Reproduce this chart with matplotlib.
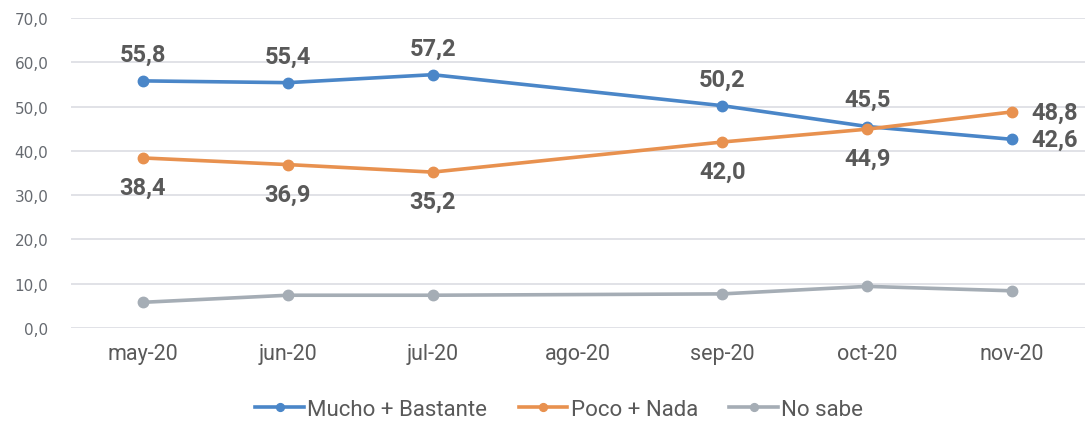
import matplotlib
matplotlib.use("Agg")
import matplotlib.pyplot as plt
import numpy as np

categories = ["may-20", "jun-20", "jul-20", "ago-20", "sep-20", "oct-20", "nov-20"]
mucho = [55.8, 55.4, 57.2, None, 50.2, 45.5, 42.6]
poco = [38.4, 36.9, 35.2, None, 42.0, 44.9, 48.8]
nosabe = [5.8, 7.4, 7.4, None, 7.7, 9.4, 8.4]
yticks = [0, 10, 20, 30, 40, 50, 60, 70]

cond = "Roboto"

blue = "#4a86c8"
orange = "#e8914f"
gray = "#a5adb5"
txt = "#595959"

fig = plt.figure(figsize=(10.86, 4.27), dpi=100)
ax = fig.add_axes([70.5/1086, 1-329/427, (1084.5-70.5)/1086, (329-19)/427])

x = np.arange(len(categories))

def series(vals):
    xs = [xi for xi, v in zip(x, vals) if v is not None]
    ys = [v for v in vals if v is not None]
    return np.array(xs), np.array(ys)

for vals, col, lab in [(mucho, blue, "Mucho + Bastante"), (poco, orange, "Poco + Nada"), (nosabe, gray, "No sabe")]:
    xs, ys = series(vals)
    ax.plot(xs, ys, color=col, lw=2.6, marker="o", ms=7.5, label=lab, zorder=3)

def fmt(v):
    return f"{v:.1f}".replace(".", ",")

lab_kw = dict(textcoords="offset points", fontsize=17, fontweight="bold", color=txt, family=cond)

xs, ys = series(mucho)
for xi, v in zip(xs, ys):
    if xi == 6:
        ax.annotate(fmt(v), (xi, v), xytext=(14, 0), ha="left", va="center", **lab_kw)
    else:
        ax.annotate(fmt(v), (xi, v), xytext=(0, 11), ha="center", va="bottom", **lab_kw)
xs, ys = series(poco)
for xi, v in zip(xs, ys):
    if xi == 6:
        ax.annotate(fmt(v), (xi, v), xytext=(14, 0), ha="left", va="center", **lab_kw)
    else:
        ax.annotate(fmt(v), (xi, v), xytext=(0, -13), ha="center", va="top", **lab_kw)

ax.set_xlim(-0.5, len(categories)-0.5)
ax.set_ylim(0, 70)
ax.set_yticks(yticks)
ax.set_yticklabels([fmt(v) for v in yticks], fontsize=11, color="#666a70")
ax.set_xticks(x)
ax.set_xticklabels(categories, fontsize=15.5, color=txt, family=cond)
ax.tick_params(length=0)
ax.tick_params(axis="y", pad=16)
ax.tick_params(axis="x", pad=11)
ax.grid(axis="y", color="#dcdde3", lw=1.2)
ax.set_axisbelow(True)
for s in ax.spines.values():
    s.set_visible(False)

leg = ax.legend(loc="center", bbox_to_anchor=(0.482, -0.262), ncol=3, frameon=False,
                prop={"family": cond, "size": 16}, handlelength=2.2, columnspacing=1.4,
                handletextpad=0.15, markerscale=0.75)
for t in leg.get_texts():
    t.set_color(txt)

fig.savefig("out.png", dpi=100)
